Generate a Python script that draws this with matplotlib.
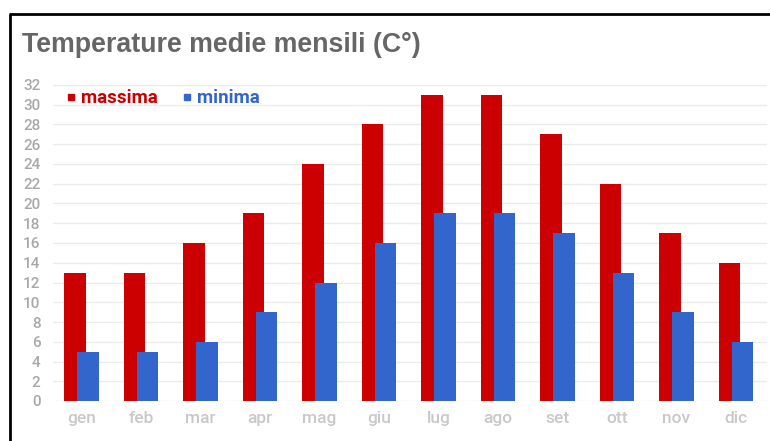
import numpy as np
import matplotlib
matplotlib.use("Agg")
import matplotlib.pyplot as plt
from matplotlib.lines import Line2D

# data
months = ["gen", "feb", "mar", "apr", "mag", "giu",
          "lug", "ago", "set", "ott", "nov", "dic"]
t_max = [13, 13, 16, 19, 24, 28, 31, 31, 27, 22, 17, 14]
t_min = [5, 5, 6, 9, 12, 16, 19, 19, 17, 13, 9, 6]
y_ticks = list(range(0, 33, 2))

RED = "#cc0000"
BLUE = "#3366cc"

W, H = 770, 441
fig = plt.figure(figsize=(W / 100, H / 100), dpi=100)
fig.patch.set_facecolor("white")

# outer black frame (left and top edges only are visible)
fig.add_artist(Line2D([9.5 / W, 9.5 / W], [0, 1 - 13.5 / H], transform=fig.transFigure,
                      color="black", lw=2.0, solid_capstyle="butt"))
fig.add_artist(Line2D([8.5 / W, 1], [1 - 13.5 / H, 1 - 13.5 / H], transform=fig.transFigure,
                      color="black", lw=2.0, solid_capstyle="butt"))

fig.text(22 / W, 1 - 52 / H, "Temperature medie mensili (C°)", fontsize=19.3,
         fontweight="bold", color="#666666", family="Liberation Sans", va="baseline")

ax = fig.add_axes([53 / W, 40 / H, (767 - 53) / W, 316 / H])
x = np.arange(len(months))
off = 0.109
w = 0.365
ax.bar(x - off, t_max, width=w, color=RED, label="massima", zorder=2)
ax.bar(x + off, t_min, width=w, color=BLUE, label="minima", zorder=3)

ax.set_xlim(-0.48, 11.52)
ax.set_ylim(0, 32)
ax.set_yticks(y_ticks)
ax.set_yticklabels([str(v) for v in y_ticks], family="Roboto", fontsize=11,
                   fontweight="medium", color="#a8a8a8")
ax.set_xticks(x)
ax.set_xticklabels(months, family="Roboto", fontsize=12.5, fontweight="medium",
                   color="#c8c8c8")
ax.tick_params(axis="both", length=0)
ax.tick_params(axis="y", pad=9)
ax.tick_params(axis="x", pad=7)
ax.grid(axis="y", color="#ebebeb", lw=1.0, zorder=0)
ax.set_axisbelow(True)
for s in ax.spines.values():
    s.set_visible(False)

handles = [Line2D([], [], marker="s", ls="", color=RED, markersize=5),
           Line2D([], [], marker="s", ls="", color=BLUE, markersize=5)]
ax.legend(handles, ["massima", "minima"], loc="upper left", bbox_to_anchor=(-0.005, 1.04),
          ncol=2, frameon=False, handlelength=0.5, handletextpad=0.3, columnspacing=1.3,
          labelcolor=[RED, BLUE], prop={"family": "Roboto", "weight": "bold", "size": 13.5})

fig.savefig("out.png", dpi=100)
